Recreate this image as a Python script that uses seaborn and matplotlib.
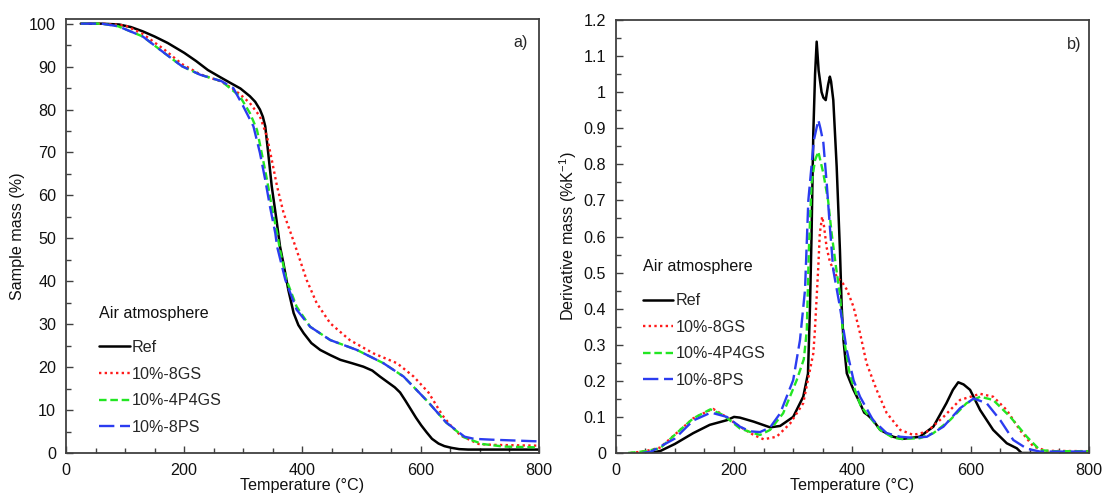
import numpy as np
import pandas as pd
import matplotlib
matplotlib.use("Agg")
import matplotlib.pyplot as plt
from matplotlib.ticker import MultipleLocator, FuncFormatter
import seaborn as sns

# ---------------- data: panel a (TGA) ----------------
tga_ref_T = [25, 60, 90, 110, 130, 150, 172, 200, 220, 240, 260, 278, 295, 311, 320,
             328, 333, 337, 342, 348, 356, 362, 368, 376, 385, 393, 402, 415, 430, 447,
             464, 484, 503, 518, 531, 545, 556, 565, 574, 583, 592, 601, 610, 619, 630,
             640, 652, 665, 680, 700, 800]
tga_ref_m = [100, 100, 99.8, 99.2, 98.2, 97.0, 95.5, 93.2, 91.3, 89.2, 87.6, 86.2, 84.9, 83.1, 81.8,
             80.0, 78.3, 76.1, 69.9, 62.1, 54.3, 48.1, 44.0, 38.0, 32.6, 29.8, 27.9, 25.6, 24.0, 22.8,
             21.7, 20.9, 20.1, 19.2, 17.8, 16.4, 15.3, 14.1, 12.2, 10.2, 8.2, 6.4, 4.8, 3.3, 2.2,
             1.6, 1.2, 0.9, 0.8, 0.8, 0.8]

tga_8gs_T = [25, 60, 100, 130, 166, 196, 227, 263, 278, 294, 311, 328, 340, 348, 357,
             368, 382, 390, 407, 424, 447, 480, 520, 560, 588, 613, 637, 650, 668, 698, 720, 800]
tga_8gs_m = [100, 100, 99.6, 97.6, 94.0, 90.6, 88.2, 86.5, 85.2, 83.6, 81.5, 78.4, 73.7, 68.3, 62.1,
             55.9, 50.5, 47.3, 40.3, 34.9, 30.2, 26.3, 23.2, 20.9, 17.8, 14.1, 8.7, 6.5, 4.0, 2.1, 1.9, 1.7]

tga_4p4gs_T = [25, 60, 88, 130, 166, 196, 227, 263, 294, 311, 323, 331, 340, 348, 357,
               362, 373, 390, 413, 447, 492, 537, 571, 583, 613, 643, 674, 704, 740, 800]
tga_4p4gs_m = [100, 100, 99.4, 97.0, 93.2, 90.1, 88.1, 86.6, 83.1, 79.2, 75.3, 69.9, 63.6, 57.4, 51.2,
               47.3, 40.3, 34.1, 29.4, 26.3, 24.0, 20.9, 17.8, 16.1, 11.8, 7.1, 3.6, 2.1, 1.5, 1.3]

tga_8ps_T = [25, 60, 88, 130, 166, 196, 227, 263, 283, 300, 317, 328, 337, 345, 354, 357,
             371, 390, 413, 447, 492, 537, 571, 613, 643, 674, 690, 720, 800]
tga_8ps_m = [100, 100, 99.4, 97.0, 93.2, 90.1, 88.1, 86.6, 85.0, 80.7, 76.1, 69.9, 63.6, 57.4, 51.2, 48.1,
             40.3, 33.4, 29.4, 26.3, 24.0, 20.9, 17.8, 11.8, 7.1, 3.8, 3.3, 3.1, 2.7]

# ---------------- data: panel b (DTG) ----------------
dtg_ref_T = [60, 76, 100, 131, 159, 188, 200, 210, 233, 261, 278, 300, 317, 325, 328.4,
             331, 334, 337, 339.7, 343, 348, 351, 355, 359, 362, 364, 367.8, 373.5, 379, 382,
             385, 390.6, 402, 413, 420, 426, 435, 447, 469, 484, 500, 514, 537, 559, 570,
             579, 588, 599, 616, 638, 661, 678, 686, 700, 800]
dtg_ref_v = [0, 0.006, 0.025, 0.055, 0.078, 0.091, 0.100, 0.098, 0.087, 0.071, 0.075, 0.100, 0.156, 0.22, 0.405,
             0.60, 0.886, 1.05, 1.14, 1.06, 1.00, 0.985, 0.978, 1.02, 1.043, 1.03, 0.978, 0.794, 0.563, 0.405,
             0.313, 0.221, 0.175, 0.138, 0.112, 0.105, 0.091, 0.064, 0.045, 0.039, 0.042, 0.045, 0.073, 0.138, 0.175,
             0.196, 0.19, 0.175, 0.119, 0.064, 0.027, 0.013, 0, 0, 0]

dtg_8gs_T = [25, 50, 75, 109, 131, 157, 165, 182, 210, 233, 250, 272, 295, 317, 334,
             336.5, 342.5, 345, 349, 352, 356.5, 362, 373.5, 384, 391, 402, 413, 424, 441, 458,
             481, 503, 526, 554, 582, 616, 638, 661, 683, 706, 728, 800]
dtg_8gs_v = [0, 0.005, 0.015, 0.064, 0.096, 0.117, 0.122, 0.105, 0.073, 0.050, 0.038, 0.045, 0.082, 0.138, 0.276,
             0.334, 0.518, 0.609, 0.655, 0.63, 0.57, 0.53, 0.489, 0.47, 0.452, 0.405, 0.332, 0.249, 0.175, 0.111,
             0.064, 0.050, 0.059, 0.100, 0.147, 0.164, 0.156, 0.119, 0.064, 0.018, 0.006, 0.005]

dtg_4p4gs_T = [21, 50, 75, 109, 131, 160, 182, 210, 233, 244, 261, 283, 306, 318, 323,
               326.5, 331, 337, 342.5, 351, 359, 365, 372, 379, 384, 396, 414, 424, 447, 469,
               484, 514, 537, 565, 593, 616, 638, 667, 695, 717, 740, 800]
dtg_4p4gs_v = [0, 0.005, 0.013, 0.064, 0.096, 0.121, 0.105, 0.068, 0.055, 0.050, 0.064, 0.110, 0.202, 0.26, 0.34,
               0.563, 0.747, 0.812, 0.835, 0.775, 0.70, 0.609, 0.52, 0.44, 0.334, 0.214, 0.131, 0.110, 0.064, 0.042,
               0.039, 0.041, 0.055, 0.091, 0.138, 0.156, 0.147, 0.100, 0.045, 0.008, 0.005, 0.005]

dtg_8ps_T = [45, 60, 100, 131, 161, 188, 210, 227, 244, 261, 278, 300, 311.5, 320, 325.6,
             335, 342.5, 346, 351, 356.7, 362, 367.8, 379, 390.6, 402, 413, 435, 458, 481, 503,
             526, 554, 582, 605, 627, 650, 672, 695, 717, 800]
dtg_8ps_v = [0, 0.004, 0.040, 0.090, 0.112, 0.100, 0.073, 0.060, 0.058, 0.071, 0.110, 0.202, 0.313, 0.452, 0.70,
             0.867, 0.923, 0.90, 0.86, 0.747, 0.627, 0.507, 0.405, 0.285, 0.202, 0.156, 0.091, 0.055, 0.045, 0.042,
             0.045, 0.073, 0.124, 0.151, 0.138, 0.091, 0.036, 0.012, 0.004, 0.004]

labels = ["Ref", "10%-8GS", "10%-4P4GS", "10%-8PS"]
colors = ["#000000", "#ff1a1a", "#22e622", "#2b3cf0"]
styles = ["-", (0, (1.0, 1.4)), (0, (3.2, 1.6)), (0, (6.5, 2.4))]
widths = [1.8, 1.7, 1.7, 1.7]

tga = [(tga_ref_T, tga_ref_m), (tga_8gs_T, tga_8gs_m), (tga_4p4gs_T, tga_4p4gs_m), (tga_8ps_T, tga_8ps_m)]
dtg = [(dtg_ref_T, dtg_ref_v), (dtg_8gs_T, dtg_8gs_v), (dtg_4p4gs_T, dtg_4p4gs_v), (dtg_8ps_T, dtg_8ps_v)]

FS = 11.6

# ---------------- styling ----------------
sns.set_theme(style="white")
plt.rcParams["font.family"] = ["Liberation Sans", "DejaVu Sans"]
plt.rcParams["mathtext.fontset"] = "custom"
plt.rcParams["mathtext.rm"] = "Liberation Sans"
plt.rcParams["mathtext.it"] = "Liberation Sans:italic"
plt.rcParams["font.size"] = FS

fig = plt.figure(figsize=(11.03, 4.99), dpi=100)
ax1 = fig.add_axes([0.0598, 0.0922, 0.4289, 0.8690])
ax2 = fig.add_axes([0.5582, 0.0922, 0.4291, 0.8677])

def draw(ax, data):
    for (T, v), lab, c, ls, lw in zip(data, labels, colors, styles, widths):
        df = pd.DataFrame({"T": T, "v": v})
        sns.lineplot(data=df, x="T", y="v", ax=ax, color=c, linestyle=ls,
                     linewidth=lw, label=lab, estimator=None, sort=False)

def style_axis(ax):
    for s in ax.spines.values():
        s.set_color("#404040")
        s.set_linewidth(1.3)
        s.set_visible(True)
    ax.tick_params(which="both", direction="in", left=True, bottom=True,
                   top=False, right=False, colors="#404040", labelcolor="#111111",
                   labelsize=FS)
    ax.tick_params(which="major", length=5, width=1.0, pad=7)
    ax.tick_params(which="minor", length=3.5, width=1.0)
    ax.set_xlim(0, 800)
    ax.xaxis.set_major_locator(MultipleLocator(200))
    ax.xaxis.set_minor_locator(MultipleLocator(50))
    ax.set_xlabel("Temperature (°C)", fontsize=FS, labelpad=0, color="#111111")

def legend(ax, anchor):
    leg = ax.legend(title="Air atmosphere", frameon=False, loc="lower left",
                    bbox_to_anchor=anchor, borderaxespad=0, borderpad=0,
                    handlelength=1.9, handletextpad=0.15, labelspacing=0.72,
                    fontsize=FS, title_fontsize=FS)
    leg._legend_box.align = "left"
    leg._legend_box.sep = 14
    leg.get_title().set_color("#111111")

# panel a
draw(ax1, tga)
style_axis(ax1)
ax1.set_ylim(0, 101)
ax1.yaxis.set_major_locator(MultipleLocator(10))
ax1.yaxis.set_minor_locator(MultipleLocator(5))
ax1.set_ylabel("Sample mass (%)", fontsize=FS, labelpad=3, color="#111111")
ax1.text(0.962, 0.946, "a)", transform=ax1.transAxes, ha="center", va="center", fontsize=FS)
legend(ax1, (0.07, 0.042))

# panel b
draw(ax2, dtg)
style_axis(ax2)
ax2.set_ylim(0, 1.2)
ax2.yaxis.set_major_locator(MultipleLocator(0.1))
ax2.yaxis.set_minor_locator(MultipleLocator(0.05))
ax2.yaxis.set_major_formatter(FuncFormatter(lambda v, p: f"{v:.1f}".rstrip("0").rstrip(".")))
ax2.set_ylabel("Derivative mass (%K$^{-1}$)", fontsize=FS, labelpad=3, color="#111111")
ax2.text(0.968, 0.944, "b)", transform=ax2.transAxes, ha="center", va="center", fontsize=FS)
legend(ax2, (0.057, 0.150))

fig.savefig("out.png", dpi=100)
